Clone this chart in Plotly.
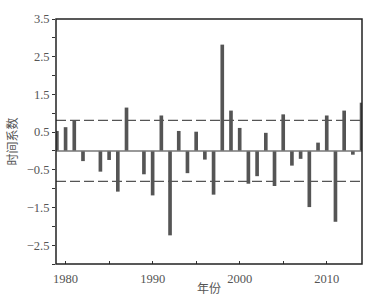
import plotly.graph_objects as go

years = list(range(1979, 2015))
values = [0.53, 0.63, 0.81, -0.27, 0.0, -0.55, -0.24, -1.08, 1.15, 0.0,
          -0.62, -1.18, 0.94, -2.24, 0.53, -0.59, 0.51, -0.23, -1.16, 2.82,
          1.07, 0.61, -0.87, -0.67, 0.48, -0.93, 0.97, -0.39, -0.21, -1.49,
          0.22, 0.94, -1.88, 1.07, -0.10, 1.28]
threshold = 0.81

y_tickvals = [-3.0, -2.5, -2.0, -1.5, -1.0, -0.5, 0.0, 0.5, 1.0, 1.5, 2.0, 2.5, 3.0, 3.5]
y_ticktext = ["", "−2.5", "", "−1.5", "", "−0.5", "", "0.5", "", "1.5", "", "2.5", "", "3.5"]
x_tickvals = [1980, 1985, 1990, 1995, 2000, 2005, 2010]
x_ticktext = ["1980", "", "1990", "", "2000", "", "2010"]

fig = go.Figure()
fig.add_trace(go.Bar(x=years, y=values, width=0.42,
                     marker=dict(color="#555555", line=dict(width=0))))

for yv in (threshold, -threshold):
    fig.add_shape(type="line", xref="paper", yref="y", x0=0, x1=1, y0=yv, y1=yv,
                  line=dict(color="#555555", width=1.3, dash="10px,4px"))
fig.add_shape(type="line", xref="paper", yref="y", x0=0, x1=1, y0=0, y1=0,
              line=dict(color="#777777", width=1.5))
fig.add_shape(type="rect", xref="paper", yref="paper", x0=0, x1=1, y0=0, y1=1,
              line=dict(color="#222222", width=1.5), fillcolor="rgba(0,0,0,0)")

font_serif = "Liberation Serif, Times New Roman, serif"
cjk = "Noto Sans CJK SC"
fig.update_layout(
    width=375, height=306,
    margin=dict(l=56, r=13, t=15, b=39),
    plot_bgcolor="white", paper_bgcolor="white",
    showlegend=False,
    font=dict(family=font_serif, size=12.5, color="#555555"),
    xaxis=dict(range=[1978.9, 2014.05], tickvals=x_tickvals, ticktext=x_ticktext,
               ticks="inside", ticklen=3, tickcolor="#333333", showgrid=False,
               zeroline=False, showline=False, ticklabelstandoff=5,
               title=dict(text="年份", standoff=0,
                          font=dict(family=cjk, size=12, color="#555555"))),
    yaxis=dict(range=[-3.0, 3.5], tickvals=y_tickvals, ticktext=y_ticktext,
               ticks="outside", ticklen=3, tickcolor="#333333", showgrid=False,
               zeroline=False, showline=False,
               title=dict(text="时间系数", standoff=6,
                          font=dict(family=cjk, size=12, color="#555555"))),
)

fig.write_html("out.html", config={"displayModeBar": False},
               post_script="document.body.style.margin='0';document.body.style.overflow='hidden';")
